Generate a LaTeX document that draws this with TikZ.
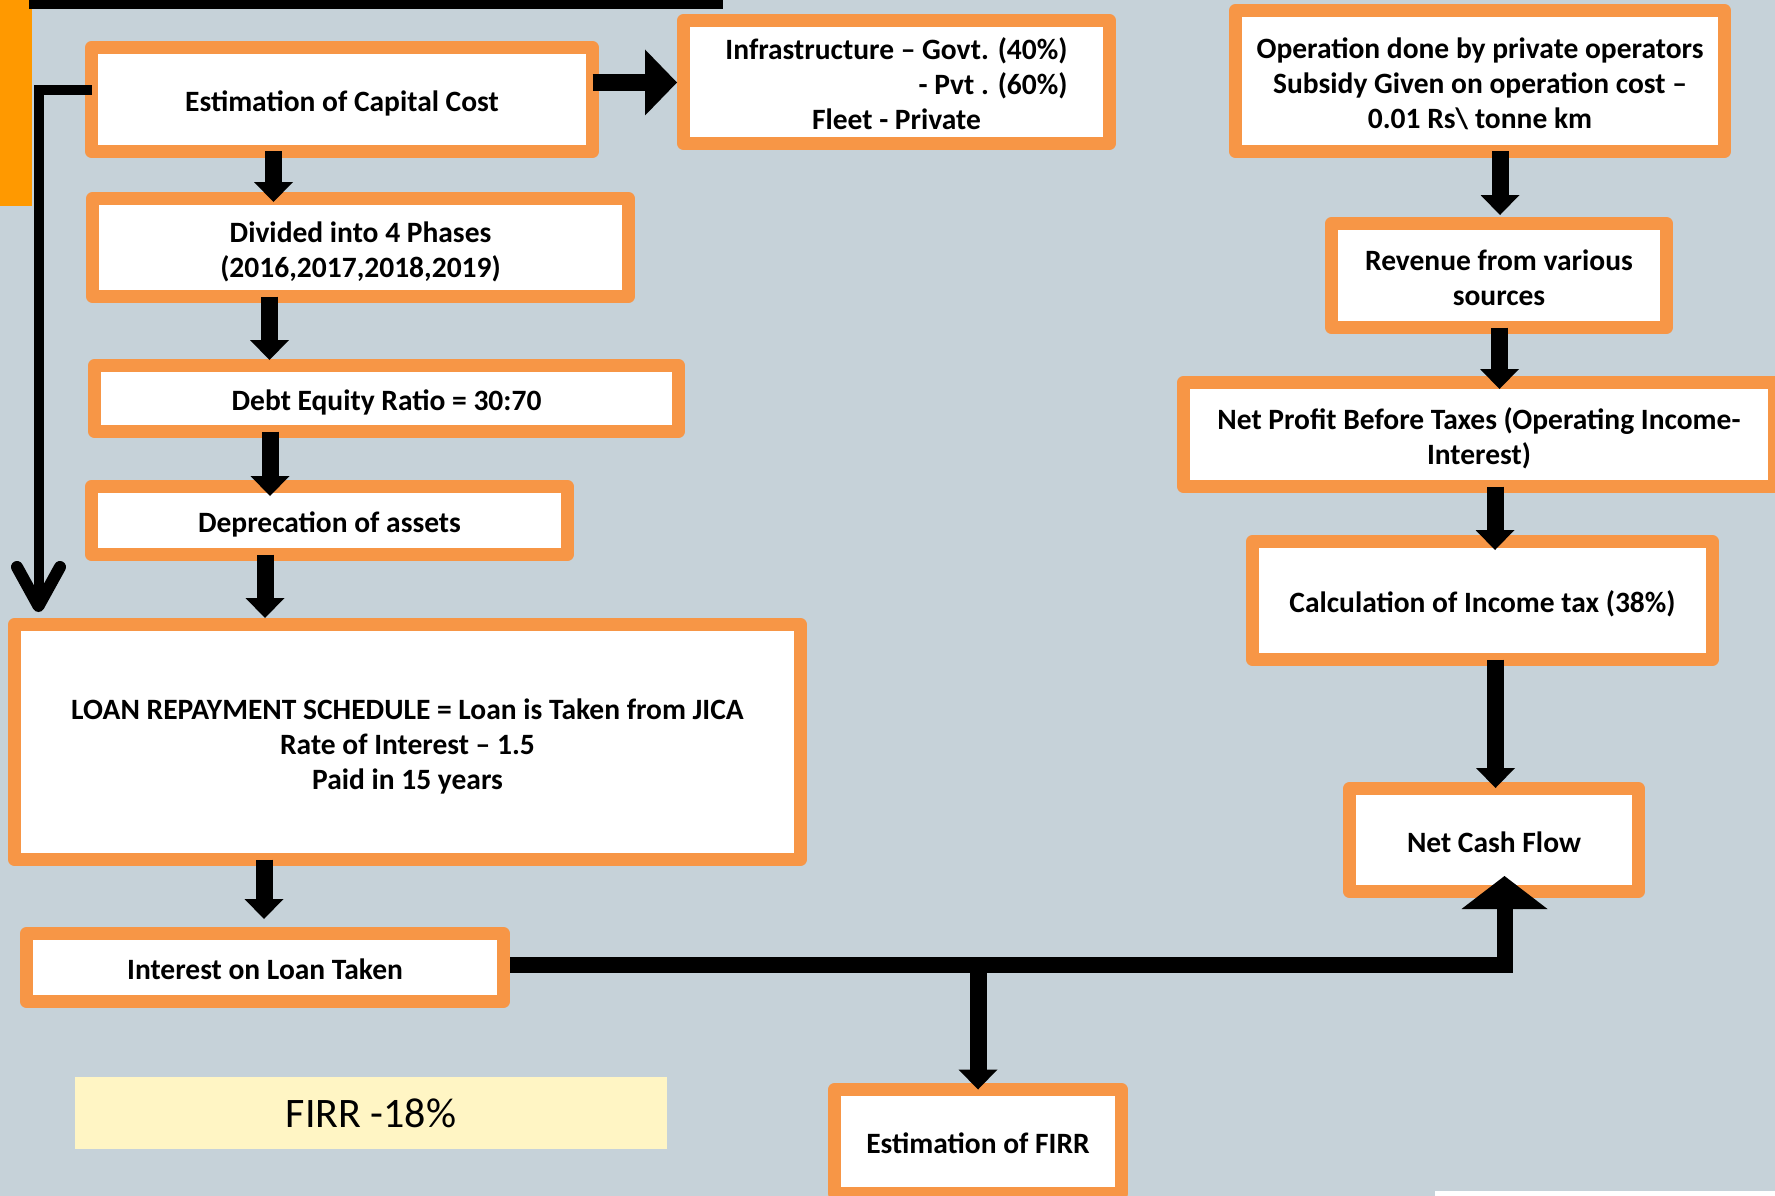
\documentclass[tikz,border=0pt]{standalone}
\usepackage{fontspec}
\setmainfont{Carlito}
\usetikzlibrary{arrows.meta,calc}

\definecolor{bgblue}{RGB}{198,210,217}
\definecolor{boxorange}{RGB}{247,150,70}
\definecolor{barorange}{RGB}{255,153,0}
\definecolor{noteyellow}{RGB}{255,245,196}

% invisible struts that fix the height of the first line and the depth of the last
\newcommand{\topst}{\rule{0pt}{30pt}}
\newcommand{\botst}{\rule[-5.6pt]{0pt}{5.6pt}}

\tikzset{
  flowbox/.style={rectangle, draw=boxorange, line width=13pt, line join=round,
    fill=white, inner sep=0pt, outer sep=0pt, align=center,
    font=\fontsize{29.5}{35}\selectfont\bfseries},
  dnarrow/.style={line width=17pt,
    -{Triangle[width=39pt,length=20pt,line width=0pt]}},
  sidearrow/.style={line width=17pt,
    -{Triangle[width=66pt,length=32pt,line width=0pt]}},
  bigarrow/.style={line width=16pt, line join=miter,
    -{Triangle[width=86pt,length=33pt,line width=0pt]}},
  elbow/.style={line width=10pt, line join=miter},
  chevron/.style={line width=12pt, line cap=round, line join=round},
}

\begin{document}
\begin{tikzpicture}[x=1pt,y=-1pt]
  % canvas
  \useasboundingbox (0,0) rectangle (1775,1196);
  \clip (0,0) rectangle (1775,1196);
  \fill[bgblue] (0,0) rectangle (1775,1196);

  % decorative bars
  \fill[barorange] (0,0) rectangle (32,206);
  \fill[black] (29,0) rectangle (723,9);
  \fill[white] (1435,1191) rectangle (1775,1196);

  % left column
  \node[flowbox, minimum width=501pt, minimum height=104pt] (b1) at (342,99.5)
    {\topst Estimation of Capital Cost\botst};
  \node[flowbox, minimum width=426pt, minimum height=123pt] (infra) at (896.5,82)
    {\begin{tabular}[b]{@{}r@{}}\topst Infrastructure \textendash{} Govt. (40\%)\\
      - Pvt . (60\%)\end{tabular}\\ Fleet - Private\botst};
  \node[flowbox, minimum width=536pt, minimum height=98pt] (b2) at (360.5,247.5)
    {\topst Divided into 4 Phases\\(2016,2017,2018,2019)\botst};
  \node[flowbox, minimum width=584pt, minimum height=66pt] (b3) at (386.5,398.5)
    {\topst Debt Equity Ratio = 30:70\botst};
  \node[flowbox, minimum width=476pt, minimum height=68pt] (b4) at (329.5,520.5)
    {\topst Deprecation of assets\botst};
  \node[flowbox, minimum width=786pt, minimum height=235pt] (loan) at (407.5,742)
    {\topst LOAN REPAYMENT SCHEDULE = Loan is Taken from JICA\\
     Rate of Interest \textendash{} 1.5\\ Paid in 15 years\botst};
  \node[flowbox, minimum width=477pt, minimum height=68pt] (intr) at (265,967.5)
    {\topst Interest on Loan Taken\botst};
  \node[flowbox, minimum width=287pt, minimum height=104pt] (est) at (978,1141.5)
    {\topst Estimation of FIRR\botst};

  % right column
  \node[flowbox, minimum width=489pt, minimum height=141pt] (op) at (1480,81)
    {\topst Operation done by private operators\\
     Subsidy Given on operation cost \textendash\\
     0.01 Rs\textbackslash{} tonne km\botst};
  \node[flowbox, minimum width=335pt, minimum height=104pt] (rev) at (1499,275.5)
    {\topst Revenue from various\\sources\botst};
  \node[flowbox, minimum width=591pt, minimum height=104pt] (np) at (1479,434.5)
    {\topst Net Profit Before Taxes (Operating Income-\\Interest)\botst};
  \node[flowbox, minimum width=460pt, minimum height=118pt] (calc) at (1482.5,600.5)
    {\topst Calculation of Income tax (38\%)\botst};
  \node[flowbox, minimum width=289pt, minimum height=103pt] (ncf) at (1494,840)
    {\topst Net Cash Flow\botst};

  % result note
  \node[fill=noteyellow, minimum width=592pt, minimum height=72pt, inner sep=0pt,
    font=\fontsize{42}{50}\selectfont] (firr) at (371,1113) {FIRR -18\%};

  % flow of the left column
  \draw[sidearrow] ($(b1.east)+(0,-17)$) -- ($(infra.west)+(-6.5,0.5)$);
  \draw[dnarrow] ($(b1.south)+(-68.5,0)$) -- ($(b2.north)+(-87,3.5)$);
  \draw[dnarrow] ($(b2.south)+(-91,0)$) -- ($(b3.north)+(-117,-5.5)$);
  \draw[dnarrow] ($(b3.south)+(-116.5,0)$) -- ($(b4.north)+(-59.5,9.5)$);
  \draw[dnarrow] ($(b4.south)+(-64.5,0)$) -- ($(loan.north)+(-142.5,-6.5)$);
  \draw[dnarrow] ($(loan.south)+(-143.5,0)$) -- ($(intr.north)+(-1,-14.5)$);

  % bypass from the capital cost down to the loan schedule
  \coordinate (lt) at (38.5,606);
  \draw[elbow] ($(b1.west)+(0,-9.5)$) -| (lt);
  \draw[chevron] ($(lt)+(-21.5,-39)$) -- (lt) -- ($(lt)+(21.5,-39)$);

  % flow of the right column
  \draw[dnarrow] ($(op.south)+(20,0)$) -- ($(rev.north)+(1,-8.5)$);
  \draw[dnarrow] ($(rev.south)+(0.5,0)$) -- ($(np.north)+(20.5,6.5)$);
  \draw[dnarrow] ($(np.south)+(16,0)$) -- ($(calc.north)+(12.5,8.5)$);
  \draw[dnarrow] ($(calc.south)+(13,0)$) -- ($(ncf.north)+(1.5,-0.5)$);

  % interest feeds the cash flow and the FIRR estimate
  \draw[bigarrow] ($(intr.east)+(6.5,-2.5)$) -| ($(ncf.south)+(10.5,-15.5)$);
  \coordinate (jb) at (978,965);
  \draw[dnarrow] (jb) -- (est.north);
\end{tikzpicture}
\end{document}
